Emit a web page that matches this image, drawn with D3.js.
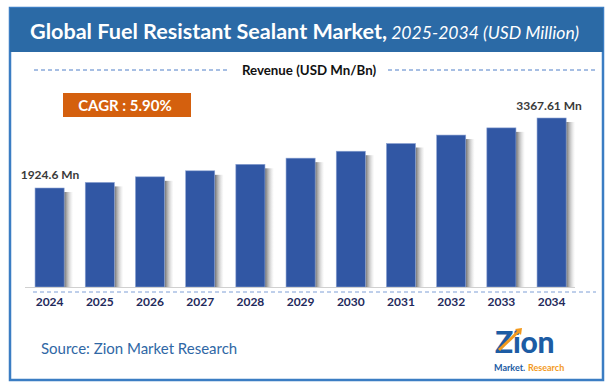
<!DOCTYPE html>
<html>
<head>
<meta charset="utf-8">
<script src="https://cdn.jsdelivr.net/npm/d3@7"></script>
<style>
body{margin:0;background:#fff}
svg{display:block}
text{font-family:'Lato','Open Sans',sans-serif}
</style>
</head>
<body>
<svg id="chart" width="614" height="392"></svg>
<script>
var years = ['2024','2025','2026','2027','2028','2029','2030','2031','2032','2033','2034']
var revenue = [1924.6, 2040, 2155, 2279, 2413, 2540, 2683, 2842, 3016, 3164, 3367.61]
var firstLabel = '1924.6 Mn'
var lastLabel = '3367.61 Mn'
var cagrText = 'CAGR : 5.90%'

var svg = d3.select('#chart')

// frame + title bar
svg.append('rect').attr('x',10).attr('y',8).attr('width',593).attr('height',372)
	.attr('fill','#fff').attr('stroke','#3b7dc3').attr('stroke-width',2.5)
svg.append('rect').attr('x',10).attr('y',8).attr('width',593).attr('height',44).attr('fill','#2b6aa6')

var title = svg.append('text').attr('x',30).attr('y',38.5).attr('fill','#fff')
title.append('tspan').text('Global Fuel Resistant Sealant Market,')
	.attr('font-size',21.6).attr('font-weight','bold')
title.append('tspan').text(' 2025-2034 (USD Million)')
	.attr('font-size',17.6).attr('font-style','italic')

// revenue header
svg.append('text').attr('x',309).attr('y',75).attr('text-anchor','middle')
	.attr('font-size',13.3).attr('font-weight','bold').attr('fill','#111').text('Revenue (USD Mn/Bn)')
svg.append('line').attr('x1',34).attr('x2',228).attr('y1',70).attr('y2',70)
	.attr('stroke','#4f7fc8').attr('stroke-dasharray','4,3')
svg.append('line').attr('x1',388).attr('x2',596).attr('y1',70).attr('y2',70)
	.attr('stroke','#4f7fc8').attr('stroke-dasharray','4,3')

// CAGR box
svg.append('rect').attr('x',63).attr('y',93).attr('width',128).attr('height',24).attr('fill','#d4600e')
svg.append('text').attr('x',125).attr('y',110.5).attr('text-anchor','middle')
	.attr('font-size',15).attr('font-weight','bold').attr('fill','#fff').text(cagrText)

// scales
var x = d3.scaleBand().domain(years).range([24.5,576.7]).paddingInner(0.42).paddingOuter(0.21)
var y = d3.scaleLinear().domain([-116,3367.61]).range([287,118])

var defs = svg.append('defs')
var grad = defs.append('linearGradient').attr('id','shade')
grad.append('stop').attr('offset','0%').attr('stop-color','#4a4a4a').attr('stop-opacity',0.8)
grad.append('stop').attr('offset','100%').attr('stop-color','#bbb').attr('stop-opacity',0)

var bars = svg.append('g').attr('id','bars')
years.forEach(function(e,i){
	bars.append('rect').attr('x',x(e)+x.bandwidth()).attr('y',y(revenue[i])+4)
		.attr('width',9).attr('height',287-y(revenue[i])-4).attr('fill','url(#shade)')
	bars.append('rect').attr('x',x(e)).attr('y',y(revenue[i]))
		.attr('width',x.bandwidth()).attr('height',287-y(revenue[i]))
		.attr('fill','#3157a4').attr('stroke','#8da3d3').attr('stroke-width',0.6)
})

// axis line + dashed
svg.append('line').attr('x1',25).attr('x2',575).attr('y1',287.5).attr('y2',287.5)
	.attr('stroke','#d0d0d0').attr('stroke-width',1.2)
svg.append('line').attr('x1',33).attr('x2',596).attr('y1',292).attr('y2',292)
	.attr('stroke','#7f9fd6').attr('stroke-dasharray','4,3')

var xAxis = svg.append('g').attr('transform','translate(0,290)')
	.call(d3.axisBottom(x).tickSize(0).tickPadding(7))
xAxis.select('.domain').remove()
xAxis.selectAll('text').attr('font-size',12).attr('font-weight','bold').attr('fill','#1f2a5c')
	.attr('font-family','Lato, sans-serif')

// value labels
svg.append('text').attr('x',50).attr('y',y(revenue[0])-9)
	.attr('text-anchor','middle').attr('font-size',12).attr('font-weight','bold').attr('fill','#3a3a3a').text(firstLabel)
svg.append('text').attr('x',549).attr('y',y(revenue[10])-8)
	.attr('text-anchor','middle').attr('font-size',12).attr('font-weight','bold').attr('fill','#3a3a3a').text(lastLabel)

// source
svg.append('text').attr('x',41).attr('y',354).attr('font-size',15).attr('fill','#2f67a5')
	.text('Source: Zion Market Research')

// logo
var logo = svg.append('g').attr('id','logo')
logo.append('text').attr('x',495).attr('y',353).attr('font-size',30).attr('font-weight','900')
	.attr('fill','#1d5ca4').attr('letter-spacing',-0.3).text('Zion')
logo.append('path').attr('d','M499,350 L519,331').attr('stroke','#f39a1e').attr('stroke-width',3)
logo.append('path').attr('d','M515,329 L522,328 L521,335 Z').attr('fill','#f39a1e')
logo.append('text').attr('x',494).attr('y',371).attr('font-size',9).attr('font-weight','bold')
	.attr('fill','#1d5ca4').text('Market.')
logo.append('text').attr('x',528).attr('y',371).attr('font-size',9).attr('font-weight','bold')
	.attr('fill','#f39a1e').text('Research')
</script>
</body>
</html>
